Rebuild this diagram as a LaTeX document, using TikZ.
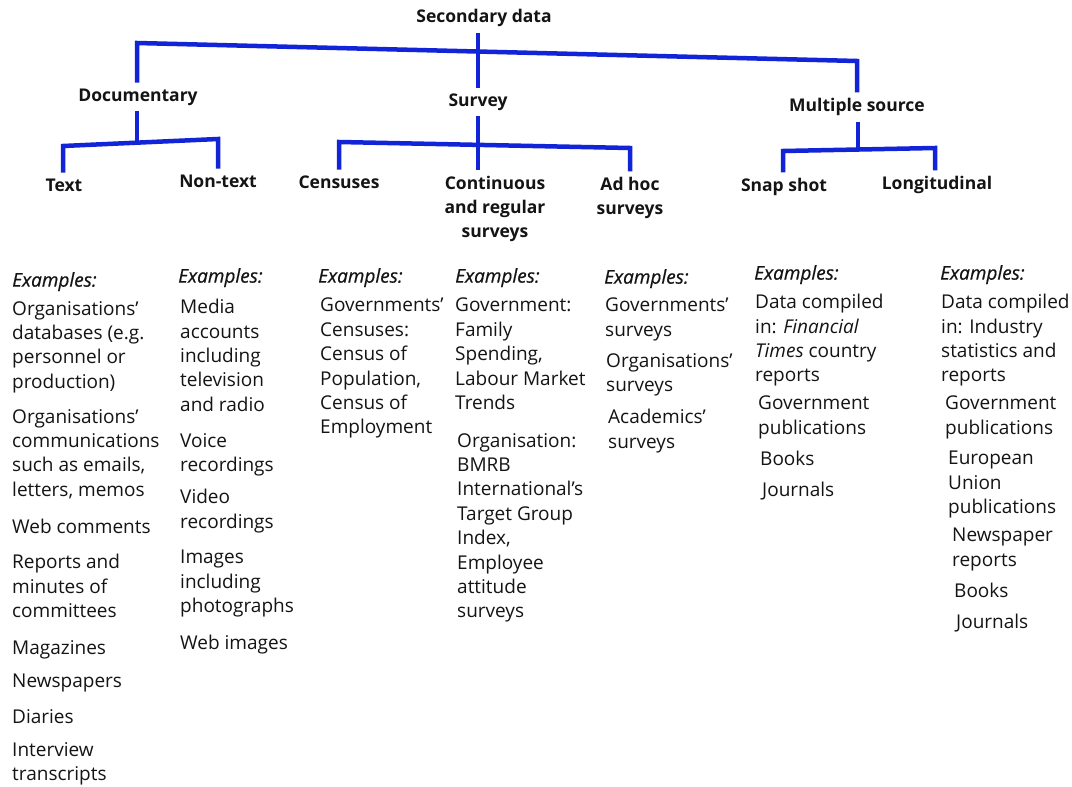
\documentclass[tikz,border=0pt]{standalone}
\usepackage{fontspec}
\setmainfont{Open Sans}
\definecolor{tblue}{RGB}{18,36,215}
\definecolor{ink}{RGB}{20,20,20}
\begin{document}
\begin{tikzpicture}[x=1pt,y=-1pt,
  conn/.style={draw=tblue,line width=4.5pt,line join=miter,line cap=butt},
  head/.style={font=\fontsize{17.5}{24}\selectfont\bfseries,text=ink,inner sep=2pt,outer sep=4pt,align=center},
  exh/.style={font=\fontsize{19}{24.5}\selectfont\itshape\addfontfeature{FakeBold=0.6},text=ink,inner sep=0pt,anchor=north west},
  item/.style={font=\fontsize{19}{24.4}\selectfont,text=ink,inner sep=0pt,anchor=north west,align=left}]
\useasboundingbox (0,0) rectangle (1072,787);
\fill[white] (0,0) rectangle (1072,787);

% tree labels
\node[head] (sd) at (484,18) {Secondary data};
\node[head] (doc) at (138,97) {Documentary};
\node[head] (sv) at (478,102) {Survey};
\node[head] (ms) at (857,107) {Multiple source};
\node[head] (txt) at (64,185) {Text};
\node[head] (ntx) at (218,181) {Non-text};
\node[head] (cen) at (339,182) {Censuses};
\node[head] (con) at (495,209) {Continuous\\and regular\\surveys};
\node[head] (adh) at (630,198) {Ad hoc\\surveys};
\node[head] (snp) at (784,187) {Snap shot};
\node[head] (lon) at (937,185) {Longitudinal};

% junction coordinates
\coordinate (tl) at (137,43);
\coordinate (tr) at (857,61);
\coordinate (dl) at (63,146);
\coordinate (dr) at (218,139);
\coordinate (dj) at (137,142.7);
\coordinate (sl) at (339,142);
\coordinate (sr) at (630,148);
\coordinate (ml) at (783,151);
\coordinate (mr) at (935,148);
\coordinate (mj) at (858,149.5);

% connectors
\draw[conn] (tl |- doc.north) -- (tl) -- (tr) -- (tr |- ms.north);
\draw[conn] (sv.north |- sd.south) -- (sv.north);
\draw[conn] (dj |- doc.south) -- (dj);
\draw[conn] (dl |- txt.north) -- (dl) -- (dr) -- (dr |- ntx.north);
\draw[conn] (sv.south) -- (sv.south |- con.north);
\draw[conn] (sl |- cen.north) -- (sl) -- (sr) -- (sr |- adh.north);
\draw[conn] (mj |- ms.south) -- (mj);
\draw[conn] (ml |- snp.north) -- (ml) -- (mr) -- (mr |- lon.north);

% column 1
\node[exh] (e1) at (12,272) {Examples:};
\node[item] (a1) at (12,301) {Organisations'\\databases (e.g.\\personnel or\\production)};
\node[item] (a2) at (12,409) {Organisations'\\communications\\such as emails,\\letters, memos};
\node[item] (a3) at (12,519) {Web comments};
\node[item] (a4) at (12,554) {Reports and\\minutes of\\committees};
\node[item] (a5) at (12,640) {Magazines};
\node[item] (a6) at (12,674) {Newspapers};
\node[item] (a7) at (12,709) {Diaries};
\node[item] (a8) at (12,742) {Interview\\transcripts};

% column 2
\node[exh] (e2) at (178,268) {Examples:};
\node[item] (b1) at (180,299) {Media\\accounts\\including\\television\\and radio};
\node[item] (b2) at (180,433) {Voice\\recordings};
\node[item] (b3) at (180,489) {Video\\recordings};
\node[item] (b4) at (180,550) {Images\\including\\photographs};
\node[item] (b5) at (180,635) {Web images};

% column 3
\node[exh] (e3) at (318,268) {Examples:};
\node[item] (c1) at (320,298) {Governments'\\Censuses:\\Census of\\Population,\\Census of\\Employment};

% column 4
\node[exh] (e4) at (455,268) {Examples:};
\node[item] (d1) at (455,298) {Government:\\Family\\Spending,\\Labour Market\\Trends};
\node[item] (d2) at (457,433) {Organisation:\\BMRB\\International's\\Target Group\\Index,\\Employee\\attitude\\surveys};

% column 5
\node[exh] (e5) at (604,269) {Examples:};
\node[item] (f1) at (605,298) {Governments'\\surveys};
\node[item] (f2) at (606,353) {Organisations'\\surveys};
\node[item] (f3) at (608,409) {Academics'\\surveys};

% column 6
\node[exh] (e6) at (754,265) {Examples:};
\node[item] (g1) at (755,294) {Data compiled\\in: \textit{Financial}\\\textit{Times} country\\reports};
\node[item] (g2) at (758,396) {Government\\publications};
\node[item] (g3) at (760,451) {Books};
\node[item] (g4) at (762,482) {Journals};

% column 7
\node[exh] (e7) at (940,265) {Examples:};
\node[item] (h1) at (941,294) {Data compiled\\in: Industry\\statistics and\\reports};
\node[item] (h2) at (945,396) {Government\\publications};
\node[item] (h3) at (948,451) {European\\Union\\publications};
\node[item] (h4) at (952,528) {Newspaper\\reports};
\node[item] (h5) at (954,583) {Books};
\node[item] (h6) at (956,614) {Journals};
\end{tikzpicture}
\end{document}
